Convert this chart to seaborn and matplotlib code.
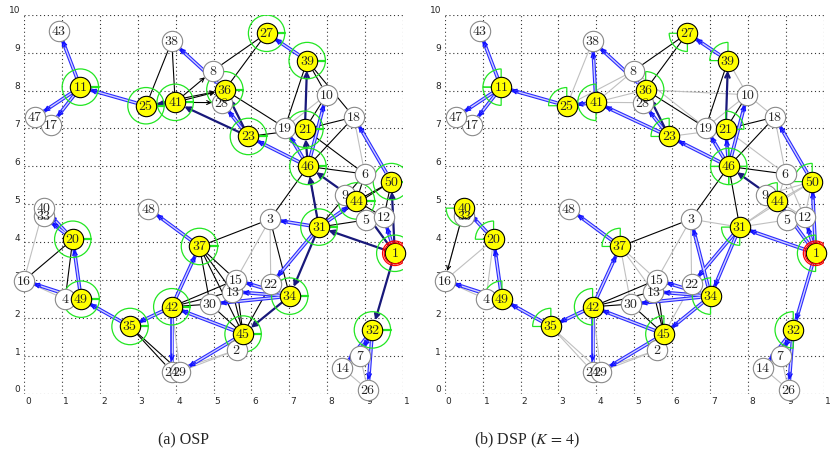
import numpy as np
import pandas as pd
import matplotlib
matplotlib.use("Agg")
import matplotlib.pyplot as plt
import seaborn as sns
from matplotlib.patches import Circle, Wedge
from matplotlib.transforms import ScaledTranslation

# node positions
node_id = list(range(1, 51))
node_x = [9.78, 5.61, 6.49, 1.09, 9.03, 8.99, 8.86, 4.98, 8.46, 7.98,
          1.49, 9.49, 5.50, 8.40, 5.59, 0.00, 0.72, 8.70, 6.88, 1.29,
          7.41, 6.51, 5.92, 3.90, 3.22, 9.07, 6.40, 5.22, 4.12, 4.91,
          7.78, 9.19, 0.52, 7.01, 2.80, 5.30, 4.63, 3.90, 7.47, 0.52,
          3.99, 3.90, 0.92, 8.77, 5.78, 7.49, 0.30, 3.28, 1.51, 9.69]
node_y = [3.71, 1.16, 4.61, 2.50, 4.60, 5.80, 1.01, 8.52, 5.25, 7.89,
          8.09, 4.66, 2.70, 0.68, 3.01, 2.99, 7.10, 7.30, 7.02, 4.08,
          6.98, 2.89, 6.79, 0.59, 7.60, 0.11, 9.51, 7.68, 0.59, 2.37,
          4.40, 1.69, 4.68, 2.58, 1.78, 8.02, 3.89, 9.30, 8.79, 4.90,
          7.69, 2.30, 9.58, 5.09, 1.58, 6.00, 7.30, 4.89, 2.50, 5.60]

selected_osp = [1, 11, 20, 21, 23, 25, 27, 31, 32, 34, 35, 36, 37, 39,
                41, 42, 44, 45, 46, 49, 50]
selected_dsp = selected_osp + [40]

# (a) OSP links
black_a = [(25, 38), (41, 38), (8, 27), (36, 27), (36, 19), (39, 19), (39, 10),
           (39, 18), (21, 10), (21, 18), (23, 21), (46, 18), (46, 6), (21, 6),
           (46, 3), (46, 31), (31, 44), (31, 50), (31, 12), (44, 50), (44, 6),
           (50, 12), (44, 12), (3, 37), (3, 34), (37, 15), (37, 13), (37, 30),
           (37, 45), (42, 15), (42, 13), (42, 30), (42, 45), (30, 45), (35, 24),
           (35, 29), (49, 35), (16, 20), (4, 20), (15, 45), (13, 45), (22, 45),
           (19, 21), (31, 6)]
black_arrow_a = [(41, 8), (41, 28), (41, 36), (25, 36)]
gray_a = [(16, 40), (16, 4), (3, 22), (3, 15), (2, 24), (2, 29), (45, 2),
          (14, 26), (7, 26), (10, 19), (18, 6), (18, 50), (4, 49), (42, 29)]
dark_a = [(21, 39), (46, 21), (23, 36), (44, 46), (31, 46), (1, 31), (1, 32),
          (1, 50), (1, 44), (31, 34), (34, 45), (23, 41), (41, 25)]
blue_a = [(11, 43), (11, 47), (11, 17), (25, 11), (36, 38), (39, 27), (46, 23),
          (46, 19), (46, 10), (23, 28), (50, 18), (1, 12), (31, 44), (31, 3),
          (31, 22), (34, 15), (34, 13), (34, 30), (45, 42), (45, 29), (42, 35),
          (42, 37), (42, 24), (37, 48), (49, 20), (20, 40), (20, 33), (49, 16),
          (35, 49), (32, 7), (32, 14), (32, 26)]

# (b) DSP links
black_b = [(8, 27), (36, 27), (36, 19), (39, 19), (21, 10), (21, 18), (46, 18),
           (46, 6), (46, 3), (46, 31), (3, 37), (42, 15), (42, 13), (42, 30),
           (30, 45), (15, 45), (13, 45)]
black_arrow_b = [(40, 16)]
gray_b = [(25, 38), (41, 38), (41, 8), (41, 36), (41, 28), (25, 8), (16, 20),
          (4, 20), (16, 4), (35, 24), (35, 29), (42, 29), (3, 22), (3, 15),
          (3, 31), (2, 24), (2, 29), (45, 2), (37, 15), (37, 13), (37, 30),
          (31, 44), (31, 50), (31, 12), (44, 50), (44, 6), (50, 12), (44, 12),
          (18, 6), (18, 50), (10, 18), (10, 19), (19, 21), (23, 21), (21, 6),
          (14, 26), (7, 26), (3, 34), (22, 45), (36, 10), (8, 19), (39, 10),
          (6, 12), (9, 50), (4, 49), (16, 40)]
dark_b = [(21, 39), (23, 36), (44, 46)]
blue_b = [(11, 43), (11, 47), (11, 17), (25, 11), (41, 25), (36, 38), (41, 38),
          (39, 27), (46, 23), (46, 19), (46, 21), (46, 10), (23, 28), (23, 41),
          (50, 18), (1, 12), (1, 44), (1, 31), (1, 32), (1, 50), (31, 34),
          (31, 22), (34, 3), (34, 15), (34, 13), (34, 30), (34, 45), (45, 42),
          (45, 29), (42, 35), (42, 37), (42, 24), (37, 48), (49, 20), (20, 40),
          (49, 16), (35, 49), (32, 7), (32, 14), (32, 26)]

# antenna sectors in (b), degrees
sectors_b = {11: [(90, 180), (180, 270)], 25: [(90, 180)], 41: [(90, 270)],
             40: [(180, 270)], 20: [(90, 180)], 49: [(90, 180)], 35: [(90, 180)],
             42: [(90, 270)], 37: [(90, 180)],
             46: [(0, 90), (90, 180), (180, 270), (270, 360)],
             39: [(90, 180)], 27: [(180, 270)], 36: [(-90, 90)], 23: [(90, 180)],
             21: [(0, 90)], 50: [(90, 180)], 44: [(90, 180)], 31: [(180, 270)],
             1: [(90, 270)], 34: [(90, 270)], 45: [(90, 270)], 32: [(90, 270)]}

R_NODE = 0.265
R_SECT = 0.48
GREEN = "#22e622"

pos = {i: np.array([x, y]) for i, x, y in zip(node_id, node_x, node_y)}


def ends(a, b):
    p0, p1 = pos[a], pos[b]
    u = (p1 - p0) / np.linalg.norm(p1 - p0)
    return p0 + R_NODE * u, p1 - R_NODE * u


def draw_links(ax, black, black_arrow, gray, dark, blue):
    for a, b in gray:
        p0, p1 = ends(a, b)
        ax.plot([p0[0], p1[0]], [p0[1], p1[1]], color="#c0c0c0", lw=0.8, zorder=1)
    for a, b in black:
        p0, p1 = ends(a, b)
        ax.plot([p0[0], p1[0]], [p0[1], p1[1]], color="black", lw=0.8, zorder=1.5)
    for a, b in black_arrow:
        p0, p1 = ends(a, b)
        ax.annotate("", xy=p1, xytext=p0, zorder=1.5,
                    arrowprops=dict(arrowstyle="->", color="black", lw=0.8,
                                    mutation_scale=7, shrinkA=0, shrinkB=0))
    for a, b in blue:
        p0, p1 = ends(a, b)
        ax.plot([p0[0], p1[0]], [p0[1], p1[1]], color="#2a2aff", lw=2.6,
                solid_capstyle="butt", zorder=2)
        ax.plot([p0[0], p1[0]], [p0[1], p1[1]], color="#d0d0ff", lw=1.0,
                solid_capstyle="butt", zorder=2.1)
        u = (p1 - p0) / np.linalg.norm(p1 - p0)
        ax.annotate("", xy=p1, xytext=p1 - 0.2 * u, zorder=2.2,
                    arrowprops=dict(arrowstyle="->", color="#1010ff", lw=1.0,
                                    mutation_scale=8, shrinkA=0, shrinkB=0))
    for a, b in dark:
        p0, p1 = ends(a, b)
        ax.annotate("", xy=p1, xytext=p0, zorder=2.3,
                    arrowprops=dict(arrowstyle="->", color="#18187a", lw=1.6,
                                    mutation_scale=8, shrinkA=0, shrinkB=0))


def draw_nodes(ax, selected):
    df = pd.DataFrame({"id": node_id, "x": node_x, "y": node_y})
    df["kind"] = np.where(df["id"].isin(selected), "sel", "other")
    sub = df[df["kind"] == "other"]
    sns.scatterplot(data=sub, x="x", y="y", s=215, color="white",
                    edgecolor="#8a8a8a", linewidth=0.8, ax=ax, zorder=4,
                    clip_on=False, legend=False)
    sub = df[df["kind"] == "sel"]
    sns.scatterplot(data=sub, x="x", y="y", s=215, color="#ffff00",
                    edgecolor="black", linewidth=0.8, ax=ax, zorder=4.2,
                    clip_on=False, legend=False)
    # source node
    ax.add_patch(Circle(pos[1], R_NODE * 1.05, fill=False, ec="red", lw=0.9, zorder=4.4))
    ax.add_patch(Circle(pos[1], R_NODE * 1.22, fill=False, ec="red", lw=0.9, zorder=4.4))
    for i in node_id:
        ax.text(pos[i][0], pos[i][1], f"${i}$", ha="center", va="center",
                fontsize=10, math_fontfamily="cm", zorder=5, clip_on=False)


def style_axes(ax):
    ax.set_xlim(0, 10)
    ax.set_ylim(0, 10)
    ax.set_aspect("equal")
    ax.set_xlabel("")
    ax.set_ylabel("")
    ax.set_xticks(range(11))
    ax.set_yticks(range(11))
    ax.set_xticklabels([str(i) for i in range(10)] + ["1"])
    ax.set_yticklabels([str(i) for i in range(11)])
    ax.grid(True, ls=(0, (1, 2.5)), color="#333333", lw=0.8)
    ax.set_axisbelow(True)
    for s in ax.spines.values():
        s.set_visible(False)
    ax.tick_params(length=0, labelsize=6.5, pad=2.5)
    fig = ax.figure
    dx = ScaledTranslation(4 / 100, 0, fig.dpi_scale_trans)
    dy = ScaledTranslation(0, 5 / 100, fig.dpi_scale_trans)
    for lab in ax.get_xticklabels():
        lab.set_transform(lab.get_transform() + dx)
    for lab in ax.get_yticklabels():
        lab.set_transform(lab.get_transform() + dy)


sns.set_style("white")
plt.rcParams["font.family"] = ["DejaVu Sans"]

fig = plt.figure(figsize=(8.3, 4.71), dpi=100)
W, H = 830, 471
ax_a = fig.add_axes([23.5 / W, (H - 394) / H, 380 / W, 379.3 / H])
ax_b = fig.add_axes([444.3 / W, (H - 394) / H, 380 / W, 379.3 / H])

# (a) OSP
draw_links(ax_a, black_a, black_arrow_a, gray_a, dark_a, blue_a)
for i in selected_osp:
    ax_a.add_patch(Circle(pos[i], R_SECT, fill=False, ec=GREEN, lw=0.9, zorder=3))
    ax_a.plot([pos[i][0] + R_NODE, pos[i][0] + R_SECT], [pos[i][1]] * 2,
              color=GREEN, lw=1.6, zorder=3)
draw_nodes(ax_a, selected_osp)
style_axes(ax_a)

# (b) DSP
draw_links(ax_b, black_b, black_arrow_b, gray_b, dark_b, blue_b)
for i, secs in sectors_b.items():
    for t1, t2 in secs:
        ax_b.add_patch(Wedge(pos[i], R_SECT, t1, t2, fill=False, ec=GREEN,
                             lw=0.9, zorder=3))
draw_nodes(ax_b, selected_dsp)
style_axes(ax_b)

fig.text(184 / W, 1 - 440 / H, "(a) OSP", ha="center", va="center",
         fontsize=11.5, family="Liberation Serif")
fig.text(527 / W, 1 - 440 / H, "(b) DSP ($K\\,=\\,4$)", ha="center", va="center",
         fontsize=11.5, family="Liberation Serif", math_fontfamily="stix")

fig.savefig("out.png", dpi=100)
